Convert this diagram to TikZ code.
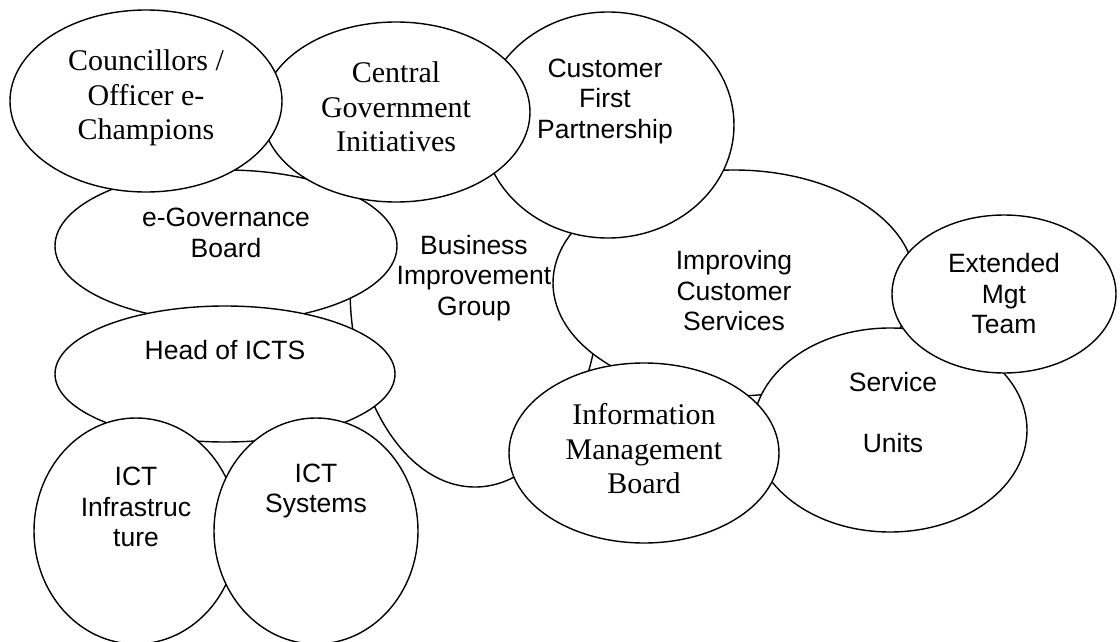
\documentclass[tikz,border=0pt]{standalone}
\usepackage{fontspec}
\setmainfont{Liberation Serif}
\setsansfont{Liberation Sans}
\usetikzlibrary{shapes.geometric}

\begin{document}
\begin{tikzpicture}[x=1pt,y=-1pt]
      \tikzset{
        bubble/.style={ellipse, draw, line width=1.4pt, fill=white, inner sep=0pt},
        sans/.style={font=\sffamily\fontsize{26.5}{30.5}\selectfont, align=center},
        roman/.style={font=\rmfamily\fontsize{30}{34.5}\selectfont, align=center},
      }
      \useasboundingbox (0,0) rectangle (1120,642);

      % bubbles from the back to the front
      \node[bubble, minimum width=250pt, minimum height=398pt] (big) at (475,288) {};
      \node[bubble, minimum width=362pt, minimum height=226pt] (ics) at (734,283) {};
      \node[bubble, minimum width=274pt, minimum height=204pt] (svc) at (890,430) {};
      \node[bubble, minimum width=224pt, minimum height=158pt] (emt) at (1004,294) {};
      \node[bubble, minimum width=270pt, minimum height=180pt] (imb) at (644,453) {};
      \node[bubble, minimum width=252pt, minimum height=226pt] (cfp) at (608,125) {};
      \node[bubble, minimum width=342pt, minimum height=152pt] (egov) at (226,246) {};
      \node[bubble, minimum width=268pt, minimum height=180pt] (cgi) at (396,112) {};
      \node[bubble, minimum width=272pt, minimum height=182pt] (coun) at (146,101) {};
      \node[bubble, minimum width=340pt, minimum height=136pt] (head) at (225,374) {};
      \node[bubble, minimum width=204pt, minimum height=226pt] (infra) at (136,531) {};
      \node[bubble, minimum width=204pt, minimum height=226pt] (sys) at (316,531) {};

      % labels
      \node[sans] (bigtxt) at ([xshift=-1pt,yshift=10pt]big) {Business\\Improvement\\Group};
      \node[sans] (icstxt) at ([yshift=-8pt]ics) {Improving\\Customer\\Services};
      \node[sans] (svctxt) at ([xshift=3pt,yshift=17pt]svc) {Service\\ \\Units};
      \node[sans] (emttxt) at (emt) {Extended\\Mgt\\Team};
      \node[roman] (imbtxt) at ([yshift=4pt]imb) {Information\\Management\\Board};
      \node[sans] (cfptxt) at ([xshift=-3pt,yshift=24pt]cfp) {Customer\\First\\Partnership};
      \node[sans] (egovtxt) at ([yshift=13pt]egov) {e-Governance\\Board};
      \node[roman] (cgitxt) at ([yshift=5pt]cgi) {Central\\Government\\Initiatives};
      \node[roman] (countxt) at ([yshift=3pt]coun) {Councillors /\\Officer e-\\Champions};
      \node[sans] (headtxt) at ([yshift=24pt]head) {Head of ICTS};
      \node[sans] (infratxt) at ([yshift=24pt]infra) {ICT\\Infrastruc\\ture};
      \node[sans] (systxt) at ([yshift=40pt]sys) {ICT\\Systems};
\end{tikzpicture}
\end{document}
